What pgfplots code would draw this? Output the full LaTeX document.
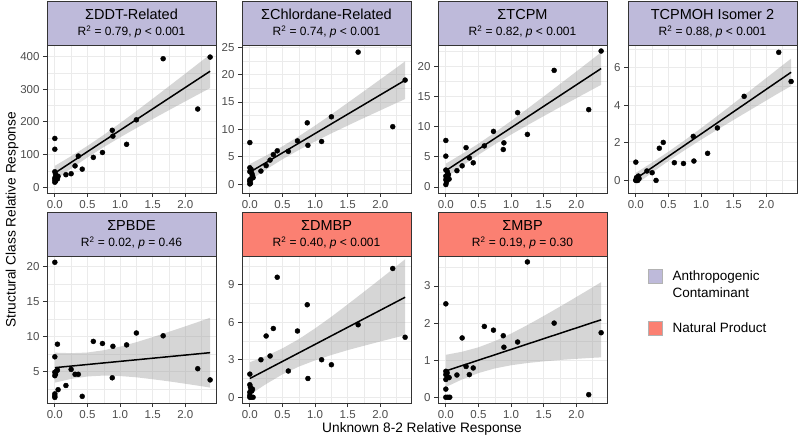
\documentclass[border=0pt]{standalone}
\usepackage{fontspec}
\setmainfont{Liberation Sans}
\usepackage{pgfplots}
\pgfplotsset{compat=1.18}

\definecolor{anth}{HTML}{BEBADA}
\definecolor{nat}{HTML}{FB8072}
\definecolor{frame}{HTML}{333333}
\definecolor{tickgrey}{HTML}{4D4D4D}
\definecolor{gridc}{HTML}{EBEBEB}
\definecolor{bandc}{HTML}{999999}

\pgfplotsset{
  panel/.style={
    scale only axis, width=169pt, anchor=south west,
    xmin=-0.12, xmax=2.47,
    xtick={0,0.5,1,1.5,2}, minor xtick={0.25,0.75,1.25,1.75,2.25},
    xticklabel style={/pgf/number format/.cd, fixed, fixed zerofill, precision=1},
    grid=both,
    major grid style={draw=gridc, line width=0.9pt},
    minor grid style={draw=gridc, line width=0.45pt},
    axis line style={draw=frame, line width=0.8pt},
    tick align=outside, xtick pos=bottom, ytick pos=left,
    major tick length=4pt, minor tick length=0pt,
    every tick/.style={draw=frame, line width=0.8pt},
    tick label style={font=\fontsize{11.5}{11.5}\selectfont, text=tickgrey},
    /pgf/number format/assume math mode=true,
  },
  pts/.style={only marks, mark=*, mark size=2.5pt, black},
  band/.style={draw=none, fill=bandc, fill opacity=0.4},
  fitline/.style={black, line width=1.5pt},
}

\newcommand{\strip}[5]{%
  \draw[fill=#3, draw=frame, line width=0.8pt] (#1,#2) rectangle ++(169,44);
  \node[anchor=base, font=\fontsize{14.5}{14.5}\selectfont] at (#1+84.5,#2+25.5) {#4};
  \node[anchor=base, font=\fontsize{12}{12}\selectfont] at (#1+84.5,#2+9.5) {#5};
}

\begin{document}
\begin{tikzpicture}[x=1pt, y=1pt]
\useasboundingbox (0,0) rectangle (800,439);

% ---- row 1 ----
\begin{axis}[panel, at={(47pt,246pt)}, height=148pt, ymin=-18, ymax=435,
  ytick={0,100,200,300,400}, minor ytick={50,150,250,350}]
\addplot[pts] coordinates {(2.38,398)(1.66,393)(2.19,239)(1.25,206)(0.88,174)(0.89,156)(1.10,131)(0.73,106)(0.59,91)(0.36,95)(0.31,65)(0.42,55)(0.25,41)(0.17,38)(0,149)(0,116)(0,47)(0.01,40)(0.02,35)(0.03,30)(0,28)(0.04,25)(0,22)(0.01,18)(0,15)(0.05,33)};
\addplot[band] coordinates {(0,65.1)(0.25,94.75)(0.5,126.1)(0.75,159.95)(1,195.7)(1.25,232.75)(1.5,270.6)(1.75,308.85)(2,347.4)(2.2,378.4)(2.38,406.4)(2.38,303.2)(2.2,284.0)(2,262.6)(1.75,235.65)(1.5,208.4)(1.25,180.75)(1,152.3)(0.75,122.55)(0.5,90.9)(0.25,56.75)(0,20.9)};
\addplot[fitline] coordinates {(0,43)(2.38,354.8)};
\end{axis}

\begin{axis}[panel, at={(242pt,246pt)}, height=148pt, ymin=-1.6, ymax=25.4,
  ytick={0,5,10,15,20,25}, minor ytick={2.5,7.5,12.5,17.5,22.5}]
\addplot[pts] coordinates {(1.66,24.1)(2.38,19.0)(2.19,10.5)(1.25,12.3)(0.88,11.2)(0.89,7.1)(1.10,7.8)(0.73,7.9)(0.59,6.0)(0.42,6.1)(0.36,5.4)(0.31,4.4)(0.25,3.4)(0.17,2.4)(0,7.6)(0,3.0)(0.02,2.7)(0,2.3)(0.03,2.0)(0.05,1.2)(0.02,1.0)(0,0.8)(0,0.5)(0.01,0.2)(0,0.05)(0.04,1.6)};
\addplot[band] coordinates {(0,3.68)(0.25,5.23)(0.5,6.91)(0.75,8.74)(1,10.70)(1.25,12.74)(1.5,14.86)(1.75,16.98)(2,19.13)(2.2,20.85)(2.38,22.42)(2.38,15.54)(2.2,14.57)(2,13.47)(1.75,12.10)(1.5,10.70)(1.25,9.28)(1,7.80)(0.75,6.24)(0.5,4.55)(0.25,2.69)(0,0.72)};
\addplot[fitline] coordinates {(0,2.2)(2.38,18.98)};
\end{axis}

\begin{axis}[panel, at={(438pt,246pt)}, height=148pt, ymin=-1.0, ymax=23.5,
  ytick={0,5,10,15,20}, minor ytick={2.5,7.5,12.5,17.5,22.5}]
\addplot[pts] coordinates {(2.38,22.5)(1.66,19.3)(2.19,12.8)(1.10,12.3)(1.25,8.7)(0.73,9.2)(0.89,7.3)(0.88,6.2)(0.59,6.8)(0.31,6.5)(0.36,4.8)(0.42,4.0)(0.25,3.5)(0.17,2.7)(0,7.7)(0,5.1)(0,2.8)(0.02,2.6)(0.03,2.2)(0,1.8)(0.05,1.3)(0,1.2)(0.01,0.8)(0,0.4)(0.04,2.0)(0.02,1.5)};
\addplot[band] coordinates {(0,3.86)(0.25,5.47)(0.5,7.17)(0.75,9.01)(1,10.93)(1.25,12.94)(1.5,14.98)(1.75,17.04)(2,19.11)(2.2,20.78)(2.38,22.29)(2.38,16.91)(2.2,15.86)(2,14.69)(1.75,13.22)(1.5,11.72)(1.25,10.22)(1,8.67)(0.75,7.05)(0.5,5.33)(0.25,3.49)(0,1.54)};
\addplot[fitline] coordinates {(0,2.7)(2.38,19.6)};
\end{axis}

\begin{axis}[panel, at={(628pt,246pt)}, height=148pt, ymin=-0.67, ymax=7.2,
  ytick={0,2,4,6}, minor ytick={1,3,5,7}]
\addplot[pts] coordinates {(2.38,5.26)(2.19,6.81)(1.66,4.47)(1.25,2.79)(1.10,1.44)(0.88,2.34)(0.89,1.03)(0.73,0.90)(0.59,0.94)(0.42,2.02)(0.36,1.71)(0.31,0.0)(0.25,0.41)(0.17,0.50)(0,0.97)(0.04,0.23)(0,0)(0.03,0)(0.05,0.1)(0.02,0.05)(0.01,0.15)(0,0.02)};
\addplot[band] coordinates {(0,0.402)(0.25,0.953)(0.5,1.529)(0.75,2.139)(1,2.776)(1.25,3.432)(1.5,4.099)(1.75,4.772)(2,5.448)(2.2,5.995)(2.38,6.478)(2.38,5.022)(2.2,4.665)(2,4.252)(1.75,3.738)(1.5,3.221)(1.25,2.698)(1,2.164)(0.75,1.611)(0.5,1.031)(0.25,0.417)(0,-0.222)};
\addplot[fitline] coordinates {(0,0.09)(2.38,5.75)};
\end{axis}

% ---- row 2 ----
\begin{axis}[panel, at={(47pt,36pt)}, height=147pt, ymin=0.5, ymax=21.5,
  ytick={5,10,15,20}, minor ytick={2.5,7.5,12.5,17.5}]
\addplot[pts] coordinates {(0,20.6)(0.59,9.3)(0.73,9.0)(0.89,8.6)(1.10,8.8)(1.25,10.5)(1.66,10.1)(2.19,5.4)(2.38,3.8)(0.88,4.1)(0.25,5.3)(0.31,4.6)(0.36,4.6)(0.17,3.0)(0.42,1.45)(0.04,8.9)(0,7.1)(0.05,2.4)(0.04,5.2)(0,4.9)(0.01,4.6)(0,4.4)(0,1.8)(0,1.5)(0,1.3)(0.02,5.0)};
\addplot[band] coordinates {(0,7.69)(0.25,7.62)(0.5,7.71)(0.75,8.04)(1,8.55)(1.25,9.19)(1.5,9.91)(1.75,10.67)(2,11.45)(2.2,12.09)(2.38,12.68)(2.38,2.70)(2.2,2.97)(2,3.25)(1.75,3.59)(1.5,3.89)(1.25,4.17)(1,4.35)(0.75,4.42)(0.5,4.29)(0.25,3.94)(0,3.41)};
\addplot[fitline] coordinates {(0,5.55)(2.38,7.69)};
\end{axis}

\begin{axis}[panel, at={(242pt,36pt)}, height=147pt, ymin=-0.46, ymax=11.3,
  ytick={0,3,6,9}, minor ytick={1.5,4.5,7.5,10.5}]
\addplot[pts] coordinates {(2.19,10.3)(2.38,4.8)(1.66,5.8)(0.42,9.6)(0.88,7.4)(0.36,5.5)(0.25,4.9)(0.73,5.3)(0.31,3.3)(0.17,3.0)(0.59,2.1)(1.10,3.0)(1.25,2.6)(0.89,1.5)(0,1.85)(0,1.0)(0.01,0.8)(0.02,0.6)(0.04,0.65)(0,0.4)(0,0.15)(0.02,0.0)(0.05,0.0)(0,0.0)(0.03,0.5)};
\addplot[band] coordinates {(0,2.80)(0.25,3.30)(0.5,3.91)(0.75,4.65)(1,5.51)(1.25,6.44)(1.5,7.43)(1.75,8.44)(2,9.46)(2.2,10.29)(2.38,11.04)(2.38,4.96)(2.2,4.73)(2,4.46)(1.75,4.12)(1.5,3.77)(1.25,3.38)(1,2.95)(0.75,2.45)(0.5,1.83)(0.25,1.06)(0,0.20)};
\addplot[fitline] coordinates {(0,1.5)(2.38,8.0)};
\end{axis}

\begin{axis}[panel, at={(438pt,36pt)}, height=147pt, ymin=-0.155, ymax=3.81,
  ytick={0,1,2,3}, minor ytick={0.5,1.5,2.5,3.5}]
\addplot[pts] coordinates {(1.25,3.65)(0,2.52)(0.59,1.91)(0.73,1.81)(0.88,1.66)(0.25,1.6)(1.66,2.0)(2.38,1.74)(1.10,1.49)(0.89,1.35)(0.31,0.83)(0.42,0.79)(0.36,0.61)(0.17,0.6)(2.19,0.07)(0,0.22)(0,0.7)(0.02,0.66)(0,0.61)(0.03,0.55)(0.05,0.53)(0,0.48)(0,0)(0.03,0)(0.06,0)};
\addplot[band] coordinates {(0,1.145)(0.25,1.228)(0.5,1.347)(0.75,1.513)(1,1.717)(1.25,1.947)(1.5,2.192)(1.75,2.445)(2,2.704)(2.2,2.913)(2.38,3.104)(2.38,1.076)(2.2,1.059)(2,1.036)(1.75,1.005)(1.5,0.968)(1.25,0.923)(1,0.863)(0.75,0.777)(0.5,0.653)(0.25,0.482)(0,0.275)};
\addplot[fitline] coordinates {(0,0.71)(2.38,2.09)};
\end{axis}

% ---- strips ----
\strip{47}{394}{anth}{ΣDDT-Related}{R\textsuperscript{2} = 0.79, \textit{p} < 0.001}
\strip{242}{394}{anth}{ΣChlordane-Related}{R\textsuperscript{2} = 0.74, \textit{p} < 0.001}
\strip{438}{394}{anth}{ΣTCPM}{R\textsuperscript{2} = 0.82, \textit{p} < 0.001}
\strip{628}{394}{anth}{TCPMOH Isomer 2}{R\textsuperscript{2} = 0.88, \textit{p} < 0.001}
\strip{47}{183}{anth}{ΣPBDE}{R\textsuperscript{2} = 0.02, \textit{p} = 0.46}
\strip{242}{183}{nat}{ΣDMBP}{R\textsuperscript{2} = 0.40, \textit{p} < 0.001}
\strip{438}{183}{nat}{ΣMBP}{R\textsuperscript{2} = 0.19, \textit{p} = 0.30}

% ---- axis titles ----
\node[font=\fontsize{13.7}{13.7}\selectfont] at (422,10) {Unknown 8-2 Relative Response};
\node[font=\fontsize{13.7}{13.7}\selectfont, rotate=90] at (12,219) {Structural Class Relative Response};

% ---- legend ----
\draw[fill=anth, draw=gray!60, line width=0.5pt] (648,156) rectangle (662,170);
\draw[fill=nat, draw=gray!60, line width=0.5pt] (648,104) rectangle (662,118);
\node[anchor=base west, font=\fontsize{13.5}{13.5}\selectfont] at (669,158) {Anthropogenic};
\node[anchor=base west, font=\fontsize{13.5}{13.5}\selectfont] at (669,141.5) {Contaminant};
\node[anchor=base west, font=\fontsize{13.5}{13.5}\selectfont] at (669,106.3) {Natural Product};
\end{tikzpicture}
\end{document}
